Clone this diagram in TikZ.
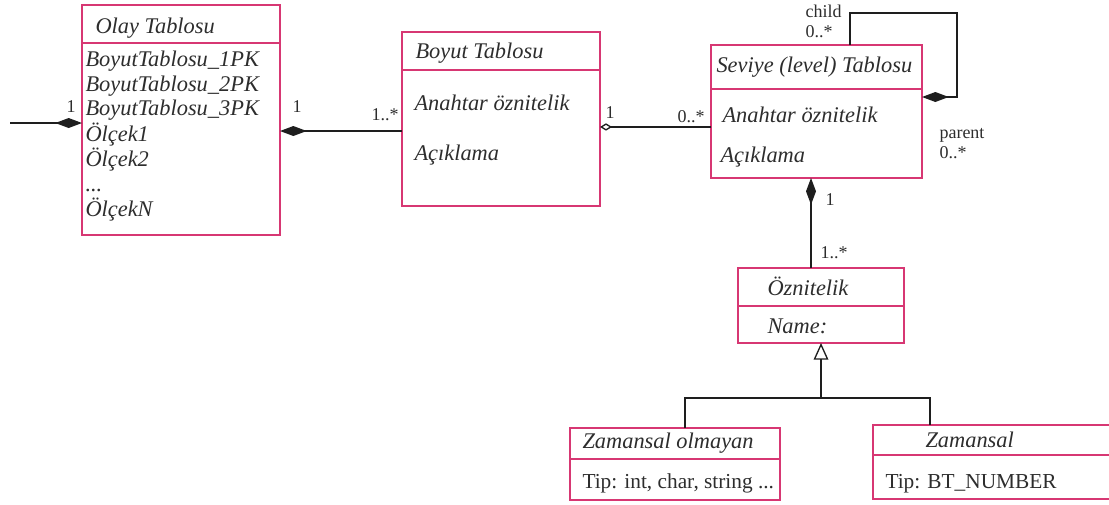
\documentclass[tikz,border=0pt]{standalone}
\usepackage{fontspec}
\setmainfont{Liberation Serif}
\usetikzlibrary{arrows.meta}

\definecolor{tabloPembe}{RGB}{215,55,115}
\definecolor{cizgiRengi}{RGB}{30,30,30}
\definecolor{yaziRengi}{RGB}{45,45,45}

\tikzset{every picture/.style={line width=0.75pt}}
\tikzset{
  tablo/.style={draw=tabloPembe, line width=2.1pt, inner sep=0pt, outer sep=0pt, anchor=north west},
  baslik/.style={anchor=base west, inner sep=0pt, text=yaziRengi, font=\fontsize{16.8}{19}\selectfont\itshape},
  tipyazi/.style={anchor=base west, inner sep=0pt, text=yaziRengi, font=\fontsize{16}{19}\selectfont},
  etiket/.style={anchor=base west, inner sep=0pt, text=yaziRengi, font=\fontsize{13.5}{16}\selectfont},
  cizgi/.style={draw=cizgiRengi, line width=1.9pt},
  bilesim/.style={cizgi, -{Diamond[length=20pt, width=7.5pt]}},
  toplama/.style={cizgi, -{Diamond[open, length=9pt, width=5.5pt, line width=1pt]}},
  kalitim/.style={cizgi, -{Triangle[open, length=12.5pt, width=11pt, line width=1pt]}}
}

\begin{document}
\begin{tikzpicture}[x=0.75pt,y=0.75pt,yscale=-1,xscale=1]
    \useasboundingbox (0,0) rectangle (1109,504);
    \clip (0,0) rectangle (1109,504);

    %Shape: Olay Tablosu
    \node [tablo, minimum width=148.5pt, minimum height=28.5pt] (olayBaslik) at (82,5) {};
    \node [tablo, minimum width=148.5pt, minimum height=144pt] (olayGovde) at (olayBaslik.south west) {};
    %Shape: Boyut Tablosu
    \node [tablo, minimum width=148.5pt, minimum height=28.5pt] (boyutBaslik) at (402,32) {};
    \node [tablo, minimum width=148.5pt, minimum height=102pt] (boyutGovde) at (boyutBaslik.south west) {};
    %Shape: Seviye Tablosu
    \node [tablo, minimum width=158.25pt, minimum height=33pt] (seviyeBaslik) at (711,45) {};
    \node [tablo, minimum width=158.25pt, minimum height=66.75pt] (seviyeGovde) at (seviyeBaslik.south west) {};
    %Shape: Oznitelik
    \node [tablo, minimum width=124.5pt, minimum height=28.5pt] (oznBaslik) at (738,268) {};
    \node [tablo, minimum width=124.5pt, minimum height=27.75pt] (oznGovde) at (oznBaslik.south west) {};
    %Shape: Zamansal olmayan
    \node [tablo, minimum width=157.5pt, minimum height=23.25pt] (zamOlmBaslik) at (570,428) {};
    \node [tablo, minimum width=157.5pt, minimum height=30.75pt] (zamOlmGovde) at (zamOlmBaslik.south west) {};
    %Shape: Zamansal
    \node [tablo, minimum width=181.5pt, minimum height=22.5pt] (zamBaslik) at (873,425) {};
    \node [tablo, minimum width=181.5pt, minimum height=33pt] (zamGovde) at (zamBaslik.south west) {};

    % Text Node
    \node [baslik] (olayAd) at (95,33) {Olay Tablosu};
    \node [baslik] (olayA1) at (85,66) {BoyutTablosu\_1PK};
    \node [baslik] (olayA2) at (85,91) {BoyutTablosu\_2PK};
    \node [baslik] (olayA3) at (85,115) {BoyutTablosu\_3PK};
    \node [baslik] (olayA4) at (85,141) {Ölçek1};
    \node [baslik] (olayA5) at (85,166) {Ölçek2};
    \node [baslik] (olayA6) at (85,191) {...};
    \node [baslik] (olayA7) at (85,216) {ÖlçekN};
    % Text Node
    \node [baslik] (boyutAd) at (415,58) {Boyut Tablosu};
    \node [baslik] (boyutA1) at (414,110) {Anahtar öznitelik};
    \node [baslik] (boyutA2) at (414,160) {Açıklama};
    % Text Node
    \node [baslik] (seviyeAd) at (716,72) {Seviye (level) Tablosu};
    \node [baslik] (seviyeA1) at (722,122) {Anahtar öznitelik};
    \node [baslik] (seviyeA2) at (720,162) {Açıklama};
    % Text Node
    \node [baslik] (oznAd) at (767,295) {Öznitelik};
    \node [baslik] (oznA1) at (767,333) {Name:};
    % Text Node
    \node [baslik] (zamOlmAd) at (582,448) {Zamansal olmayan};
    \node [tipyazi] (zamOlmA1) at (582,488) {Tip: int, char, string ...};
    \node [baslik] (zamAd) at (925,447) {Zamansal};
    \node [tipyazi] (zamA1) at (885,488) {Tip: BT\_NUMBER};

    %Straight Lines: iliskiler (yscale=-1, so a downward shift is positive)
    \coordinate (solUc) at (10,123);
    \draw [bilesim] (solUc) -- (solUc -| olayGovde.west);
    \coordinate (ob) at ([yshift=-5.25pt]boyutGovde.west);
    \draw [bilesim] (ob) -- (ob -| olayGovde.east);
    \coordinate (bs) at ([yshift=-4.9pt]seviyeGovde.west);
    \draw [toplama] (bs) -- (bs -| boyutGovde.east);
    \coordinate (cocuk) at ([xshift=25.1pt]seviyeBaslik.north);
    \coordinate (ebeveyn) at ([yshift=6pt]seviyeGovde.north east);
    \draw [bilesim] (cocuk) -- ++(0,-32) -- ++(107,0) |- (ebeveyn);
    \coordinate (oz) at ([xshift=-7.5pt]oznBaslik.north);
    \draw [bilesim] (oz) -- (oz |- seviyeGovde.south);
    % kalitim
    \coordinate (dal) at ([yshift=41.25pt]oznGovde.south);
    \coordinate (solDal) at ([xshift=7.5pt]zamOlmBaslik.north);
    \coordinate (sagDal) at ([xshift=-48pt]zamBaslik.north);
    \draw [kalitim] (dal) -- (oznGovde.south);
    \draw [cizgi] (solDal) |- (dal) -| (sagDal);

    % Text Node: etiketler
    \node [etiket] (e1) at (66,112) {1};
    \node [etiket] (e2) at (292,112) {1};
    \node [etiket] (e3) at (371,120) {1..*};
    \node [etiket] (e4) at (605,118) {1};
    \node [etiket] (e5) at (677,122) {0..*};
    \node [etiket] (e6) at (805,17) {child};
    \node [etiket] (e7) at (805,37) {0..*};
    \node [etiket] (e8) at (939,138) {parent};
    \node [etiket] (e9) at (939,158) {0..*};
    \node [etiket] (e10) at (825,205) {1};
    \node [etiket] (e11) at (820,258) {1..*};

\end{tikzpicture}
\end{document}
